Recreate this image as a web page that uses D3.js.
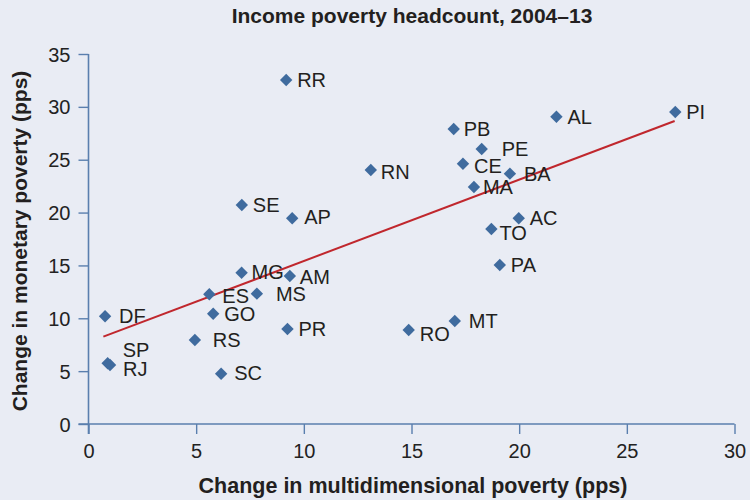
<!DOCTYPE html>
<html>
<head>
<meta charset="utf-8">
<script src="https://cdn.jsdelivr.net/npm/d3@7"></script>
<style>
    body { margin: 0; background: #e9ecf4; }
    svg { display: block; font-family: "Liberation Sans", Arial, Helvetica, sans-serif; }
</style>
</head>
<body>
<svg id="chart"></svg>
<script>
// states, change in multidimensional poverty (x) and monetary poverty (y), pps
const states = ["RR", "AL", "PI", "PB", "PE", "CE", "RN", "BA", "MA", "SE", "AP", "AC", "TO", "PA",
    "MG", "AM", "ES", "MS", "DF", "GO", "PR", "RO", "MT", "RS", "SP", "RJ", "SC"];
const multiDim = [9.18, 21.73, 27.25, 16.96, 18.26, 17.39, 13.11, 19.57, 17.90, 7.12, 9.46, 19.98, 18.71, 19.10,
    7.11, 9.35, 5.61, 7.82, 0.77, 5.79, 9.24, 14.87, 17.01, 4.94, 0.89, 1.00, 6.16];
const monetary = [32.54, 29.07, 29.51, 27.90, 26.01, 24.62, 24.03, 23.68, 22.42, 20.72, 19.46, 19.46, 18.45, 15.04,
    14.31, 14.00, 12.27, 12.33, 10.19, 10.43, 8.99, 8.89, 9.74, 7.95, 5.74, 5.58, 4.76];

// fitted line end points
const trendX = [0.69, 27.22];
const trendY = [8.26, 28.66];

const xTicks = [0, 5, 10, 15, 20, 25, 30];
const yTicks = [0, 5, 10, 15, 20, 25, 30, 35];

// label nudges (px), to keep the names off each other
const labelNudge = {
    PE: [20, 0], CE: [11, 2], RN: [10, 2], BA: [14, 0], MA: [9, 0], AP: [12, -1.5],
    TO: [8, 4], MS: [19, 0], DF: [14, 0], RS: [18, 0], SP: [15, -14], RJ: [13, 3.5],
    RO: [11, 4], MT: [14, 0], MG: [10, -1], AM: [10, 1], PB: [10, 0], SC: [13, -1], ES: [13, 1.5]
};

const width = 750, height = 500;
const axisColor = "#5a7fae";
const pointColor = "#3f6b9e";

const svg = d3.select("#chart")
    .attr("width", width)
    .attr("height", height);

const x = d3.scaleLinear().domain([0, 30]).range([88.5, 734.5]);
const y = d3.scaleLinear().domain([0, 35]).range([424, 54]);

// axes
const xAxis = svg.append("g")
    .attr("transform", `translate(0,${y(0)})`)
    .call(d3.axisBottom(x).tickValues(xTicks).tickSize(10).tickSizeOuter(0).tickPadding(6));

const yAxis = svg.append("g")
    .attr("transform", `translate(${x(0)},0)`)
    .call(d3.axisLeft(y).tickValues(yTicks).tickSize(10).tickSizeOuter(0).tickPadding(8));

[xAxis, yAxis].forEach(g => {
    g.select(".domain").attr("stroke", axisColor).attr("stroke-width", 1.6);
    g.selectAll(".tick line").attr("stroke", axisColor).attr("stroke-width", 1.4);
    g.selectAll(".tick text")
        .attr("fill", "#222")
        .style("font-size", "20px")
        .style("font-family", "'Liberation Sans', Arial, sans-serif");
});
// x domain continues left to meet the y ticks, y domain down to the x ticks
xAxis.select(".domain").attr("d", `M${x(0) - 10},0H${x(30)}`);
yAxis.select(".domain").attr("d", `M0,${y(35)}V${y(0) + 10}`);
xAxis.selectAll(".tick text").attr("dy", "0.9em");
yAxis.selectAll(".tick text").attr("dy", "0.35em");

// trend line
svg.append("line")
    .attr("x1", x(trendX[0]))
    .attr("y1", y(trendY[0]))
    .attr("x2", x(trendX[1]))
    .attr("y2", y(trendY[1]))
    .attr("stroke", "#c0272d")
    .attr("stroke-width", 2);

// points
const points = states.map((s, i) => ({ name: s, mx: multiDim[i], my: monetary[i] }));
const r = 6.2;

svg.append("g").selectAll("path")
    .data(points)
    .join("path")
    .attr("d", d => {
        let cx = x(d.mx), cy = y(d.my);
        return `M${cx},${cy - r}L${cx + r},${cy}L${cx},${cy + r}L${cx - r},${cy}Z`;
    })
    .attr("fill", pointColor);

svg.append("g").selectAll("text")
    .data(points)
    .join("text")
    .attr("x", d => x(d.mx) + (labelNudge[d.name] ? labelNudge[d.name][0] : 11))
    .attr("y", d => y(d.my) + (labelNudge[d.name] ? labelNudge[d.name][1] : 0))
    .attr("dy", "0.36em")
    .attr("fill", "#231f20")
    .style("font-size", "20px")
    .text(d => d.name);

// titles
svg.append("text")
    .attr("x", 412)
    .attr("y", 23)
    .attr("text-anchor", "middle")
    .attr("fill", "#231f20")
    .style("font-size", "21px")
    .style("font-weight", "bold")
    .text("Income poverty headcount, 2004–13");

svg.append("text")
    .attr("x", 413)
    .attr("y", 493)
    .attr("text-anchor", "middle")
    .attr("fill", "#231f20")
    .style("font-size", "21.5px")
    .style("font-weight", "bold")
    .text("Change in multidimensional poverty (pps)");

svg.append("text")
    .attr("transform", "translate(27,241) rotate(-90)")
    .attr("text-anchor", "middle")
    .attr("fill", "#231f20")
    .style("font-size", "21px")
    .style("font-weight", "bold")
    .text("Change in monetary poverty (pps)");
</script>
</body>
</html>
